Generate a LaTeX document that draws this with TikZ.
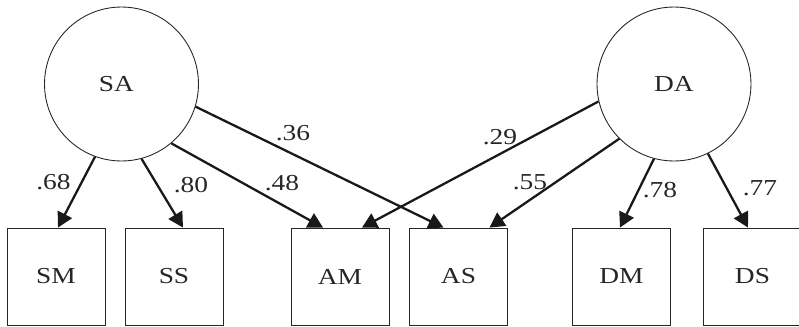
\documentclass[tikz,border=0pt]{standalone}
\usepackage{fontspec}
\setmainfont{Liberation Serif}[FakeStretch=1.2]
\usetikzlibrary{positioning, arrows.meta, calc}

\begin{document}
\begin{tikzpicture}[
  x=0.02cm, y=0.02cm,
  every node/.style={font=\fontsize{13}{15}\selectfont, text=black!85},
  latent/.style={circle, draw=black!85, line width=0.5pt, minimum size=3.08cm, inner sep=0pt},
  manifest/.style={rectangle, draw=black!85, line width=0.5pt, minimum width=1.96cm, minimum height=1.94cm, inner sep=0pt},
  loadedge/.style={draw=black!90, line width=1.3pt, -{Triangle[length=8.5pt, width=9pt]}},
  weight/.style={inner sep=0pt}
]
\useasboundingbox (0,0) rectangle (799,326);

% factors
\node[latent] (SA) at (121.5,242) {SA\hspace*{0.45em}};
\node[latent] (DA) at (674,242) {DA};

% indicators
\node[manifest] (SM) at (56,49.5) {SM};
\node[manifest] (SS) at (174,49.5) {SS};
\node[manifest] (AM) at (340,49.5) {AM};
\node[manifest] (AS) at (458.5,49.5) {AS};
\node[manifest] (DM) at (621.5,49.5) {DM};
\node[manifest] (DS) at (752.5,49.5) {DS};

\draw[loadedge] (SA.250) -- ($(SM.north)+(2,0)$);
\draw[loadedge] (SA.285) -- ($(SS.north)+(9,0)$);
\draw[loadedge] (SA.-50) -- ($(AM.north)+(-17,0)$);
\draw[loadedge] (SA.-17) -- ($(AS.north)+(-15,0)$);
\draw[loadedge] (DA.193) -- ($(AM.north)+(22,0)$);
\draw[loadedge] (DA.225) -- ($(AS.north)+(31,0)$);
\draw[loadedge] (DA.255) -- ($(DM.north)+(-1.5,0)$);
\draw[loadedge] (DA.296) -- ($(DS.north)+(-4.5,0)$);

% loadings
\node[weight] (w68) at (53.5,143.5) {.68};
\node[weight] (w80) at (191,141) {.80};
\node[weight] (w48) at (282,143) {.48};
\node[weight] (w36) at (293,193) {.36};
\node[weight] (w29) at (500,189) {.29};
\node[weight] (w55) at (530,144) {.55};
\node[weight] (w78) at (660,136) {.78};
\node[weight] (w77) at (760,138) {.77};

\end{tikzpicture}
\end{document}
